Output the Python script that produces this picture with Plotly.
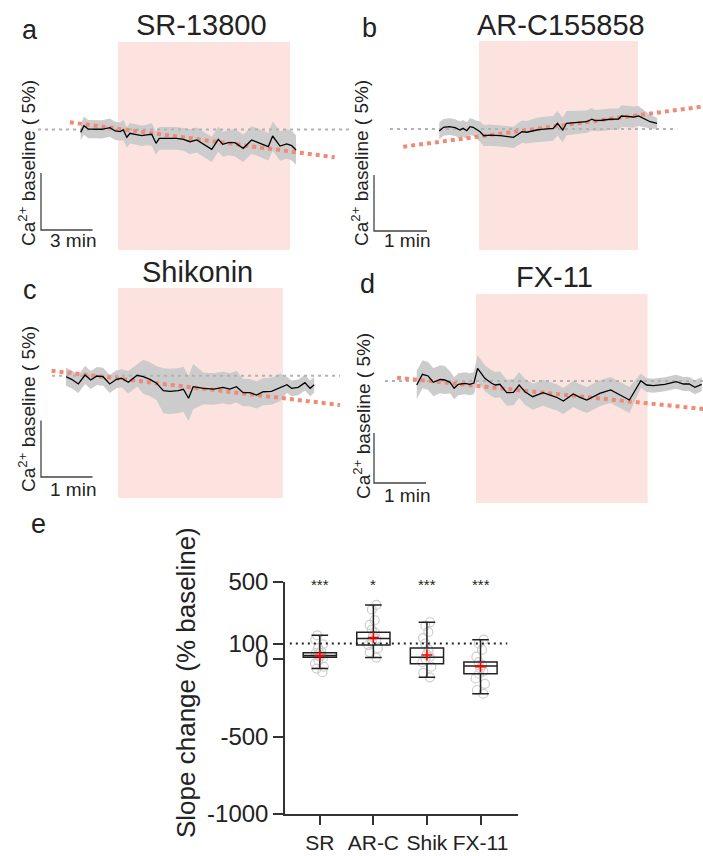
import numpy as np
import plotly.graph_objects as go

W, H = 703, 856
FONT = "Liberation Sans, Arial, sans-serif"
INK = "#222222"

# ---------------- data: panels a-d ----------------
# time in min from drug onset, Ca2+ signal in % change from baseline
panel_titles = ["SR-13800", "AR-C155858", "Shikonin", "FX-11"]
panel_letters = ["a", "b", "c", "d"]

time_a = [-2.17, -1.98, -1.73, -1.34, -0.95, -0.47, -0.17, 0.12, 0.31, 0.51, 0.70, 0.99, 1.38, 1.67,
          1.96, 2.21, 2.40, 2.83, 3.41, 3.80, 4.19, 4.58, 4.96, 5.45, 5.83, 6.09, 6.41, 6.80, 7.28,
          7.77, 8.26, 8.74, 8.99, 9.42, 9.81, 10.10, 10.35]
ca_a = [-0.25, 0.33, 0.04, 0.04, 0.02, 0.16, -0.13, -0.19, -0.04, -0.68, -0.33, -0.42, -0.54, -0.48,
        -0.42, -1.21, -0.77, -0.77, -0.77, -0.86, -1.07, -0.92, -1.30, -1.74, -0.86, -1.30, -1.16,
        -1.16, -1.65, -0.92, -1.21, -1.51, -0.57, -1.45, -1.27, -1.42, -1.80]
sem_a = [0.7, 0.8, 0.8, 0.8, 0.8, 0.8, 0.8, 0.8, 0.9, 0.9, 0.9, 0.9, 0.9, 0.9, 1.0, 1.0, 1.0, 1.0,
         1.0, 1.0, 1.1, 1.1, 1.1, 1.1, 1.1, 1.1, 1.1, 1.2, 1.2, 1.2, 1.2, 1.2, 1.3, 1.3, 1.3, 1.3, 1.3]

time_b = [-0.75, -0.67, -0.56, -0.45, -0.36, -0.30, -0.23, -0.17, -0.11, -0.08, 0.02, 0.09, 0.21,
          0.40, 0.52, 0.65, 0.74, 0.81, 0.90, 0.99, 1.09, 1.18, 1.31, 1.40, 1.48, 1.53, 1.58, 1.65,
          1.78, 1.91, 2.03, 2.13, 2.19, 2.32, 2.47, 2.63, 2.69, 2.79, 2.91, 3.01, 3.10, 3.23, 3.36]
ca_b = [-0.18, 0.15, 0.21, 0.12, -0.09, 0.06, -0.15, 0.21, 0.15, 0.06, -0.24, -0.60, -0.54, -0.60,
        -0.65, -0.74, -0.47, -0.24, -0.29, -0.18, -0.09, -0.03, 0.00, 0.06, 0.51, 0.21, -0.09, 0.51,
        0.56, 0.60, 0.65, 0.87, 0.74, 0.78, 0.87, 0.89, 1.16, 1.13, 1.07, 1.16, 0.96, 0.65, 0.51]
sem_b = [0.75, 0.75, 0.75, 0.75, 0.75, 0.75, 0.75, 0.75, 0.75, 0.75, 0.9, 0.95, 0.95, 0.95, 0.95,
         0.95, 1.0, 1.0, 1.0, 1.05, 1.1, 1.1, 1.1, 1.1, 1.1, 1.1, 1.1, 1.1, 1.05, 1.0, 1.0, 1.0,
         0.95, 0.95, 0.95, 0.95, 0.95, 0.95, 0.95, 0.9, 0.8, 0.6, 0.5]

time_c = [-1.01, -0.90, -0.77, -0.64, -0.53, -0.41, -0.29, -0.16, -0.03, 0.07, 0.20, 0.30, 0.37,
          0.49, 0.62, 0.75, 0.88, 1.01, 1.17, 1.27, 1.37, 1.46, 1.66, 1.86, 2.04, 2.17, 2.30, 2.43,
          2.56, 2.69, 2.82, 2.98, 3.15, 3.28, 3.37, 3.50, 3.63, 3.73, 3.81]
ca_c = [-0.09, -0.32, -0.73, 0.06, -0.38, -0.03, -0.09, -0.73, -0.32, -0.23, -0.58, -0.23, 0.04,
        -0.09, -0.32, -0.67, -1.33, -1.38, -1.33, -1.20, -2.00, -0.97, -1.12, -1.18, -1.03, -1.18,
        -0.97, -1.50, -1.50, -1.71, -1.42, -1.38, -1.03, -0.80, -1.12, -1.03, -0.62, -1.12, -0.80]
sem_c = [0.8, 0.8, 0.8, 0.8, 0.8, 0.8, 0.8, 0.8, 0.8, 0.8, 1.0, 1.0, 1.0, 1.5, 1.5, 1.5, 2.0, 2.0,
         2.0, 2.0, 2.0, 2.0, 1.4, 1.4, 1.4, 1.4, 1.4, 1.2, 1.2, 1.2, 1.2, 1.2, 1.2, 0.7, 0.7, 0.7,
         0.7, 0.7, 0.7]

time_d = [-1.14, -1.03, -0.92, -0.82, -0.69, -0.60, -0.50, -0.42, -0.34, -0.21, -0.12, -0.04, 0.03,
          0.17, 0.30, 0.37, 0.46, 0.59, 0.72, 0.83, 0.94, 1.09, 1.29, 1.46, 1.55, 1.68, 1.87, 2.00,
          2.13, 2.38, 2.59, 2.77, 2.95, 3.17, 3.28, 3.41, 3.63, 3.85, 3.99, 4.10, 4.21, 4.34]
ca_d = [-0.40, 0.67, 0.50, -0.13, 0.17, 0.10, -0.13, -0.73, -0.33, -0.23, -0.33, -0.20, 1.27, 0.27,
        -0.23, -0.40, -0.33, -1.17, -1.13, -0.40, -1.07, -1.57, -1.17, -1.50, -1.63, -2.00, -1.30,
        -1.63, -1.90, -1.23, -0.90, -1.40, -1.90, 0.03, -0.40, -0.47, -0.33, -0.07, -0.30, -0.30,
        -0.63, -0.33]
sem_d = [1.4, 1.4, 1.4, 1.4, 1.4, 1.4, 1.1, 1.1, 1.1, 1.1, 1.1, 1.1, 1.3, 1.3, 1.3, 1.3, 1.3, 1.3,
         1.3, 1.3, 1.3, 1.3, 1.3, 1.3, 1.3, 1.3, 1.3, 1.3, 1.3, 1.3, 1.3, 1.3, 1.3, 0.7, 0.7, 0.7,
         0.7, 0.7, 0.7, 0.7, 0.7, 0.7]

# linear fits of the baseline (extrapolated) and baseline reference line extents
fit_t = [[-2.8, 12.6], [-1.43, 4.20], [-1.29, 4.31], [-1.52, 4.37]]
fit_v = [[0.63, -2.44], [-1.58, 1.99], [0.44, -2.59], [0.33, -2.80]]
base_t = [[-4.65, 13.5], [-1.68, 3.74], [-1.28, 4.31], [-1.75, 4.37]]
drug_window = [[0, 10], [0, 3.0], [0, 3.2], [0, 3.3]]
scale_min = [3, 1, 1, 1]
scale_pct = 5

# ---------------- data: panel e ----------------
groups = ["SR", "AR-C", "Shik", "FX-11"]
q1 = [11, 90, -30, -95]
median = [22, 133, 11, -45]
q3 = [41, 172, 71, -19]
whisk_lo = [-62, 9, -118, -224]
whisk_hi = [153, 349, 237, 125]
means = [22, 138, 26, -49]
pts_sr = [153, 125, 95, 70, 50, 40, 30, 25, 15, 5, -10, -30, -50, -62, -85]
pts_arc = [349, 320, 250, 220, 190, 170, 150, 130, 110, 90, 70, 45, 9]
pts_shik = [237, 215, 175, 135, 100, 60, 30, 15, 0, -20, -50, -90, -118]
pts_fx = [125, 100, 60, 15, -20, -40, -60, -80, -95, -125, -160, -200, -224]
stars = ["***", "*", "***", "***"]
yticks_e = [500, 100, 0, -500, -1000]
ref_level = 100

# ---------------- layout geometry (pixels) ----------------
def px(x):
    return x / W

def py(y):
    return 1 - y / H

geo = [
    dict(xd=(0, 350), yd=(42, 250), x0=118, ppm=17.2, y0=129.5, ppp=11.4,
         sb=(41, 230), title=(202, 25), letter=(30, 30), ylab=(27, 163), smin=(73, 240)),
    dict(xd=(350, 703), yd=(41, 250), x0=479, ppm=53.0, y0=129.0, ppp=11.2,
         sb=(374, 231), title=(561, 25), letter=(369, 28), ylab=(360, 163), smin=(407, 240)),
    dict(xd=(0, 350), yd=(288, 498), x0=118, ppm=51.5, y0=375.7, ppp=11.3,
         sb=(41, 477), title=(197, 272), letter=(30, 290), ylab=(27, 409), smin=(73, 489)),
    dict(xd=(350, 703), yd=(294, 503), x0=476, ppm=52.0, y0=381.0, ppp=10.0,
         sb=(374, 483), title=(554, 277), letter=(367, 284), ylab=(362, 416), smin=(407, 495)),
]

PINK = "rgb(252,227,223)"
BAND = "rgb(204,204,204)"
SALMON = "rgb(240,138,118)"
GREYDOT = "rgb(178,178,178)"

fig = go.Figure()
layout_axes = {}
shapes = []
annotations = []

times = [time_a, time_b, time_c, time_d]
cas = [ca_a, ca_b, ca_c, ca_d]
sems = [sem_a, sem_b, sem_c, sem_d]

for i, g in enumerate(geo):
    n = i + 1
    sfx = "" if n == 1 else str(n)
    xa, ya = f"x{sfx}", f"y{sfx}"
    xr = [(g["xd"][0] - g["x0"]) / g["ppm"], (g["xd"][1] - g["x0"]) / g["ppm"]]
    yr = [-(g["yd"][1] - g["y0"]) / g["ppp"], -(g["yd"][0] - g["y0"]) / g["ppp"]]
    layout_axes[f"xaxis{sfx}"] = dict(domain=[px(g["xd"][0]), px(g["xd"][1])], range=xr,
                                      visible=False, anchor=ya, fixedrange=True)
    layout_axes[f"yaxis{sfx}"] = dict(domain=[py(g["yd"][1]), py(g["yd"][0])], range=yr,
                                      visible=False, anchor=xa, fixedrange=True)
    shapes.append(dict(type="rect", xref=xa, yref=f"{ya} domain", x0=drug_window[i][0],
                       x1=drug_window[i][1], y0=0, y1=1, fillcolor=PINK, line_width=0,
                       layer="below"))
    t = np.array(times[i])
    v = np.array(cas[i])
    s = np.array(sems[i])
    fig.add_trace(go.Scatter(x=np.concatenate([t, t[::-1]]), y=np.concatenate([v + s, (v - s)[::-1]]),
                             fill="toself", fillcolor=BAND, line=dict(width=0), mode="lines",
                             xaxis=xa, yaxis=ya, hoverinfo="skip", showlegend=False))
    fig.add_trace(go.Scatter(x=base_t[i], y=[0, 0], mode="lines",
                             line=dict(color=GREYDOT, width=2, dash="3px,4px"),
                             xaxis=xa, yaxis=ya, hoverinfo="skip", showlegend=False))
    fig.add_trace(go.Scatter(x=fit_t[i], y=fit_v[i], mode="lines",
                             line=dict(color=SALMON, width=4, dash="4px,4px"),
                             xaxis=xa, yaxis=ya, hoverinfo="skip", showlegend=False))
    fig.add_trace(go.Scatter(x=t, y=v, mode="lines", line=dict(color="black", width=1.3),
                             xaxis=xa, yaxis=ya, hoverinfo="skip", showlegend=False))
    sbt = (g["sb"][0] - g["x0"]) / g["ppm"]
    sbv = -(g["sb"][1] - g["y0"]) / g["ppp"]
    fig.add_trace(go.Scatter(x=[sbt, sbt, sbt + scale_min[i]], y=[sbv + scale_pct, sbv, sbv],
                             mode="lines", line=dict(color="#444444", width=1.3),
                             xaxis=xa, yaxis=ya, hoverinfo="skip", showlegend=False))
    annotations += [
        dict(text=panel_titles[i], x=px(g["title"][0]), y=py(g["title"][1]), xref="paper",
             yref="paper", showarrow=False, xanchor="center", yanchor="middle",
             font=dict(size=29, color=INK, family=FONT)),
        dict(text=panel_letters[i], x=px(g["letter"][0]), y=py(g["letter"][1]), xref="paper",
             yref="paper", showarrow=False, xanchor="center", yanchor="middle",
             font=dict(size=27, color=INK, family=FONT)),
        dict(text="Ca<sup>2+</sup> baseline ( 5%)", x=px(g["ylab"][0]), y=py(g["ylab"][1]),
             xref="paper", yref="paper", showarrow=False, xanchor="center", yanchor="middle",
             textangle=-90, font=dict(size=19, color=INK, family=FONT)),
        dict(text=f"{scale_min[i]} min", x=px(g["smin"][0]), y=py(g["smin"][1]), xref="paper",
             yref="paper", showarrow=False, xanchor="center", yanchor="middle",
             font=dict(size=19, color=INK, family=FONT)),
    ]

# ---------------- panel e ----------------
pts_all = [pts_sr, pts_arc, pts_shik, pts_fx]
for k, pts in enumerate(pts_all):
    fig.add_trace(go.Box(x=[k] * len(pts), y=pts, boxpoints="all", jitter=0.35, pointpos=0,
                         width=0.62, fillcolor="rgba(0,0,0,0)",
                         line=dict(color="rgba(0,0,0,0)", width=0),
                         marker=dict(symbol="circle-open", size=9, color="rgb(205,205,205)",
                                     line=dict(width=1.2)),
                         xaxis="x5", yaxis="y5", hoverinfo="skip", showlegend=False))
fig.add_trace(go.Box(x=list(range(len(groups))), q1=q1, median=median, q3=q3,
                     lowerfence=whisk_lo, upperfence=whisk_hi, width=0.62, whiskerwidth=0.5,
                     fillcolor="rgba(255,255,255,0)", line=dict(color="#222222", width=1.5),
                     boxpoints=False, xaxis="x5", yaxis="y5", hoverinfo="skip",
                     showlegend=False))
fig.add_trace(go.Scatter(x=list(range(len(groups))), y=means, mode="markers",
                         marker=dict(symbol="cross-thin", size=8, color="red",
                                     line=dict(color="red", width=1.6)),
                         xaxis="x5", yaxis="y5", hoverinfo="skip", showlegend=False))
shapes.append(dict(type="line", xref="x5", yref="y5", x0=-0.56, x1=3.5, y0=ref_level,
                   y1=ref_level, line=dict(color="#222222", width=2, dash="2px,4px")))

layout_axes["xaxis5"] = dict(domain=[px(285), px(518)], range=[-0.65, 3.7], anchor="y5",
                             tickvals=list(range(len(groups))), ticktext=groups,
                             showline=True, linecolor="#333333", linewidth=1.5,
                             ticks="outside", ticklen=9, tickwidth=1.5, tickcolor="#333333",
                             tickfont=dict(size=21, color=INK, family=FONT),
                             showgrid=False, zeroline=False, fixedrange=True, automargin=False)
layout_axes["yaxis5"] = dict(domain=[py(814), py(581.5)], range=[-1000, 500], anchor="x5",
                             tickvals=yticks_e, ticktext=[str(v) for v in yticks_e],
                             showline=True, linecolor="#333333", linewidth=1.5,
                             ticks="outside", ticklen=10, tickwidth=1.5, tickcolor="#333333",
                             tickfont=dict(size=24, color=INK, family=FONT),
                             showgrid=False, zeroline=False, fixedrange=True, automargin=False)

for k, s in enumerate(stars):
    annotations.append(dict(text=s, x=k, y=py(584), xref="x5", yref="paper", showarrow=False,
                            xanchor="center", yanchor="middle",
                            font=dict(size=15, color=INK, family=FONT)))
annotations += [
    dict(text="Slope change (% baseline)", x=px(186), y=py(683), xref="paper", yref="paper",
         showarrow=False, xanchor="center", yanchor="middle", textangle=-90,
         font=dict(size=26, color=INK, family=FONT)),
    dict(text="e", x=px(38), y=py(524), xref="paper", yref="paper", showarrow=False,
         xanchor="center", yanchor="middle", font=dict(size=27, color=INK, family=FONT)),
]

fig.update_layout(width=W, height=H,
                  margin=dict(l=0, r=0, t=0, b=0, pad=0, autoexpand=False),
                  paper_bgcolor="white", plot_bgcolor="rgba(0,0,0,0)",
                  boxmode="overlay", shapes=shapes, annotations=annotations,
                  font=dict(family=FONT, color=INK), showlegend=False, **layout_axes)

fig.write_html("out.html", config={"displayModeBar": False},
               post_script="document.body.style.margin='0';document.body.style.padding='0';")
